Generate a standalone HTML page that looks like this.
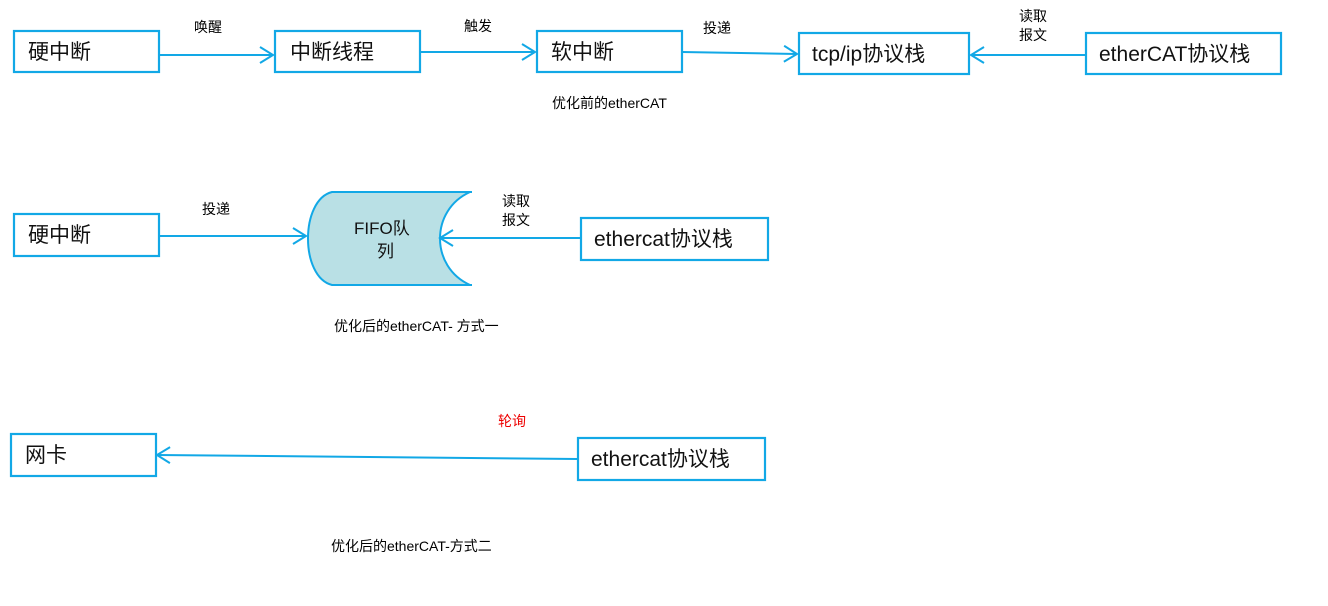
<!DOCTYPE html>
<html><head><meta charset="utf-8"><style>
body{margin:0;background:#fff;}
svg{display:block;font-family:"Liberation Sans","Noto Sans CJK SC",sans-serif;}
.b{fill:#fff;stroke:#12a8e6;stroke-width:2.2}
.l{stroke:#12a8e6;stroke-width:2;fill:none}
.t{font-size:21px;fill:#111}
.s{font-size:14px;fill:#000}
</style></head><body>
<svg width="1328" height="606" viewBox="0 0 1328 606">
<defs><marker id="a" markerWidth="16" markerHeight="18" refX="14" refY="9" orient="auto" markerUnits="userSpaceOnUse"><path d="M1,1 L14,9 L1,17" fill="none" stroke="#12a8e6" stroke-width="2"/></marker></defs>
<!-- row1 -->
<rect class="b" x="14" y="31" width="145" height="41"/><text class="t" x="28" y="59">硬中断</text>
<rect class="b" x="275" y="31" width="145" height="41"/><text class="t" x="290" y="59">中断线程</text>
<rect class="b" x="537" y="31" width="145" height="41"/><text class="t" x="551" y="59">软中断</text>
<rect class="b" x="799" y="33" width="170" height="41"/><text class="t" x="812" y="61">tcp/ip协议栈</text>
<rect class="b" x="1086" y="33" width="195" height="41"/><text class="t" x="1099" y="61">etherCAT协议栈</text>
<line class="l" x1="159" y1="55" x2="273" y2="55" marker-end="url(#a)"/>
<line class="l" x1="420" y1="52" x2="535" y2="52" marker-end="url(#a)"/>
<line class="l" x1="682" y1="52" x2="797" y2="54" marker-end="url(#a)"/>
<line class="l" x1="1086" y1="55" x2="971" y2="55" marker-end="url(#a)"/>
<text class="s" x="194" y="32">唤醒</text>
<text class="s" x="464" y="31">触发</text>
<text class="s" x="703" y="33">投递</text>
<text class="s" x="1019" y="21">读取</text>
<text class="s" x="1019" y="40">报文</text>
<text class="s" x="552" y="108">优化前的etherCAT</text>
<!-- row2 -->
<rect class="b" x="14" y="214" width="145" height="42"/><text class="t" x="28" y="242">硬中断</text>
<path d="M332,192 L472,192 C430,210 430,267 472,285 L332,285 C300,277 300,200 332,192 Z" fill="#b9e0e5" stroke="none"/>
<path d="M472,192 L332,192 C300,200 300,277 332,285 L472,285" class="l"/>
<path d="M470,192 C430,210 430,267 470,285" class="l"/>
<text x="354" y="234" style="font-size:17px;fill:#111">FIFO队</text>
<text x="377" y="257" style="font-size:17px;fill:#111">列</text>
<line class="l" x1="159" y1="236" x2="306" y2="236" marker-end="url(#a)"/>
<rect class="b" x="581" y="218" width="187" height="42"/><text class="t" x="594" y="246">ethercat协议栈</text>
<line class="l" x1="581" y1="238" x2="440" y2="238" marker-end="url(#a)"/>
<text class="s" x="202" y="214">投递</text>
<text class="s" x="502" y="206">读取</text>
<text class="s" x="502" y="225">报文</text>
<text class="s" x="334" y="331">优化后的etherCAT- 方式一</text>
<!-- row3 -->
<rect class="b" x="11" y="434" width="145" height="42"/><text class="t" x="25" y="462">网卡</text>
<rect class="b" x="578" y="438" width="187" height="42"/><text class="t" x="591" y="466">ethercat协议栈</text>
<line class="l" x1="578" y1="459" x2="157" y2="455" marker-end="url(#a)"/>
<text class="s" x="498" y="426" style="fill:#e00">轮询</text>
<text class="s" x="331" y="551">优化后的etherCAT-方式二</text>
</svg>
</body></html>
